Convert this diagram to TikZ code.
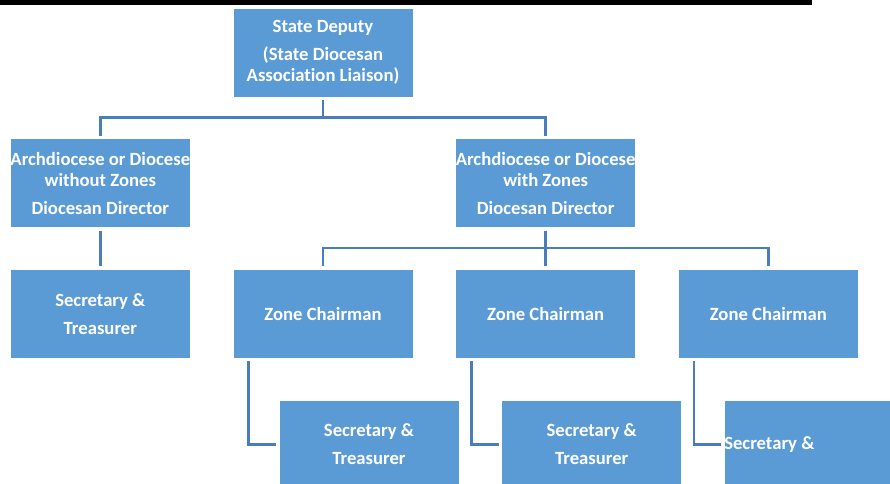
\documentclass[tikz,border=0pt]{standalone}
\usepackage{fontspec}
\setmainfont{Carlito}[Ligatures=NoCommon]
\usepackage{tikz}
\usetikzlibrary{
    positioning
}
\definecolor{boxblue}{HTML}{5B9BD5}
\definecolor{linkblue}{HTML}{4A7EBB}

\begin{document}
\begin{tikzpicture}[
    x=0.75pt, y=0.75pt,
    node distance=30.75pt and 31.5pt,
    % Estilos de Nodos
    office_box/.style={rectangle, draw=white, line width=0.5pt, fill=boxblue,
        minimum width=135pt, minimum height=66.75pt, inner sep=0pt,
        text=white, align=center, font=\fontsize{14pt}{15.75pt}\selectfont\bfseries},
    loose_text/.style={inner sep=0pt, text=white, font=\fontsize{14pt}{15.75pt}\selectfont\bfseries},
    % Estilos de Conectores
    link/.style={draw=linkblue, line width=1.8pt, shorten <=2pt, shorten >=2pt}
]
\useasboundingbox (0,0) rectangle (890,-483);

% --- REGLA SUPERIOR ---
\draw[line width=3.6pt] (0,-2.4) -- (812,-2.4);

% --- NIVEL ESTATAL ---
\node[office_box] (deputy) at (323,-52.5) {State Deputy\\[5.25pt](State Diocesan\\Association Liaison)};

% --- DIOCESIS SIN ZONAS ---
\node[office_box] (nozones) [below left=of deputy] {Archdiocese or Diocese\\without Zones\\[5.25pt]Diocesan Director};
\node[office_box] (sec_noz) [below=of nozones] {Secretary \&\\[5.25pt]Treasurer};
\draw[link] (deputy.south) -- ++(0,-20) -| (nozones.north);
\draw[link] (nozones) -- (sec_noz);

% --- DIOCESIS CON ZONAS ---
\node[office_box] (zones) [below right=of deputy] {Archdiocese or Diocese\\with Zones\\[5.25pt]Diocesan Director};
\draw[link] (deputy.south) -- ++(0,-20) -| (zones.north);

% --- PRESIDENTES DE ZONA ---
\node[office_box] (zone_b) [below=of zones] {Zone Chairman};
\node[office_box] (zone_a) [left=of zone_b] {Zone Chairman};
\node[office_box] (zone_c) [right=of zone_b] {Zone Chairman};
\draw[link] (zones.south) -- ++(0,-20) -| (zone_a.north);
\draw[link] (zones) -- (zone_b);
\draw[link] (zones.south) -- ++(0,-20) -| (zone_c.north);

% --- SECRETARIOS DE ZONA ---
\node[office_box] (sec_a) [below=of zone_a, xshift=34.5pt] {Secretary \&\\[5.25pt]Treasurer};
\node[office_box] (sec_b) [below=of zone_b, xshift=34.5pt] {Secretary \&\\[5.25pt]Treasurer};
\node[office_box] (sec_c) [below=of zone_c, xshift=34.5pt] {};
\node[loose_text, anchor=west] (sec_c_txt) at (sec_c.west) {Secretary \&};
\draw[link] ([xshift=12pt]zone_a.south west) |- (sec_a.west);
\draw[link] ([xshift=12pt]zone_b.south west) |- (sec_b.west);
\draw[link] ([xshift=12pt]zone_c.south west) |- (sec_c.west);

\end{tikzpicture}
\end{document}
